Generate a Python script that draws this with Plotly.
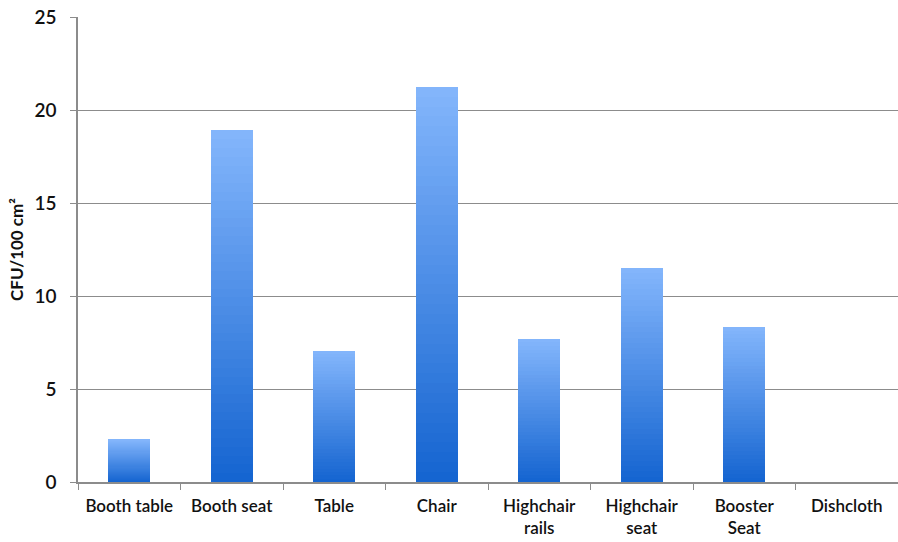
import plotly.graph_objects as go

categories = ["Booth table", "Booth seat", "Table", "Chair", "Highchair<br>rails",
              "Highchair<br>seat", "Booster<br>Seat", "Dishcloth"]
values = [2.3, 18.9, 7.05, 21.25, 7.7, 11.5, 8.35, 0.0]
y_ticks = [0, 5, 10, 15, 20, 25]

# gradient colours (bottom -> top)
c_bottom = (20, 100, 208)
c_top = (132, 182, 252)
N = 40

fig = go.Figure()
for i in range(N):
    t = (i + 0.5) / N
    col = tuple(round(c_bottom[k] + (c_top[k] - c_bottom[k]) * t) for k in range(3))
    fig.add_trace(go.Bar(
        x=categories,
        y=[v / N for v in values],
        marker=dict(color="rgb(%d,%d,%d)" % col, line=dict(width=0)),
        width=0.41,
        showlegend=False,
        hoverinfo="skip",
    ))

font_fam = "Lato, 'Open Sans', sans-serif"
fig.update_layout(
    barmode="stack",
    bargap=0,
    width=898, height=542,
    margin=dict(l=78, r=0, t=17, b=60),
    plot_bgcolor="white", paper_bgcolor="white",
    font=dict(family=font_fam, color="#111111", size=18),
    showlegend=False,
)
fig.update_yaxes(
    range=[0, 25], tickvals=y_ticks, showgrid=True, gridcolor="#8c8c8c", gridwidth=1,
    showline=True, linecolor="#8c8c8c", linewidth=1.5, ticks="outside", ticklen=6,
    tickcolor="#8c8c8c", ticklabelstandoff=10, automargin=False,
    tickfont=dict(size=19, family=font_fam, color="#111111", weight=600),
    zeroline=False,
    title=dict(text="CFU/100 cm²", font=dict(size=17, family=font_fam, weight="bold"), standoff=6),
)
fig.update_xaxes(
    showline=True, linecolor="#8c8c8c", linewidth=1.5, ticks="outside", ticklen=6,
    tickcolor="#8c8c8c", tickson="boundaries", showgrid=False, ticklabelstandoff=8,
    automargin=False,
    tickfont=dict(size=17, family=font_fam, color="#111111", weight=600),
    range=[-0.5, 7.5],
)

fig.write_html("out.html")
